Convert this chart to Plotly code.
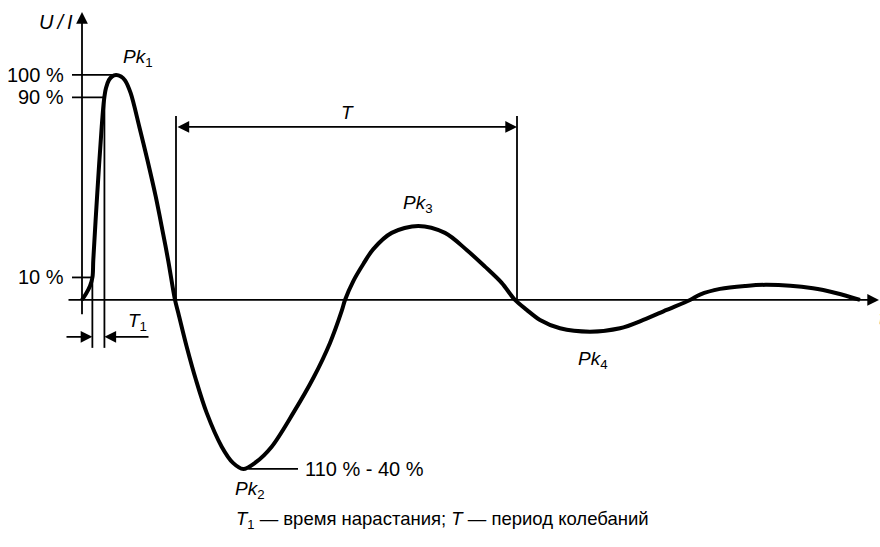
import numpy as np
import plotly.graph_objects as go

# ---- waveform data (time in arbitrary units, amplitude in % of Pk1) ----
t_vals = [0.00, 0.04, 0.08, 0.105, 0.113, 0.153, 0.197, 0.22, 0.24, 0.27, 0.30, 0.34,
          0.39, 0.43, 0.487, 0.573, 0.653, 0.737, 0.803, 0.863, 0.93,
          0.963, 1.047, 1.14, 1.247, 1.397, 1.51, 1.613, 1.73, 1.897, 2.113, 2.313,
          2.48, 2.597, 2.63,
          2.713, 2.813, 2.913, 3.097, 3.363, 3.63, 3.847, 4.03, 4.197, 4.33,
          4.447, 4.58, 4.78, 5.08, 5.38, 5.613, 5.847, 6.08,
          6.18, 6.38, 6.63, 6.847, 7.31, 7.547, 7.78]
u_vals = [0.0, 2.7, 6.2, 10.2, 17.8, 47.6, 76.9, 88.9, 94.2, 97.8, 99.3, 100.0,
          99.3, 97.6, 91.9, 77.0, 62.4, 46.0, 31.3, 17.3, 0.0,
          -5.8, -20.8, -35.6, -50.2, -65.2, -72.4, -75.1, -72.4, -65.2, -50.2, -34.7,
          -19.1, -4.9, 0.0,
          8.4, 16.0, 22.6, 29.8, 32.9, 29.8, 22.2, 14.8, 7.6, 0.0,
          -4.4, -8.9, -12.6, -14.1, -12.6, -8.9, -4.4, 0.0,
          2.4, 4.9, 6.2, 6.7, 5.2, 3.0, 0.0]

level_labels = ["100 %", "90 %", "10 %"]
level_values = [100, 90, 10]
peak_labels = ["<i>Pk</i><sub>1</sub>", "<i>Pk</i><sub>2</sub>",
               "<i>Pk</i><sub>3</sub>", "<i>Pk</i><sub>4</sub>"]
caption = "<i>T</i><sub>1</sub> — время нарастания; <i>T</i> — период колебаний"
pk2_note = "110 % - 40 %"

t = np.array(t_vals)
u = np.array(u_vals)

# derived positions
rise = slice(0, 12)
t10 = float(np.interp(10, u[rise], t[rise]))
t90 = float(np.interp(90, u[rise], t[rise]))
i_pk1 = int(np.argmax(u))
i_pk2 = int(np.argmin(u))
T_start, T_end = 0.94, 4.35

BLACK = "#000000"
FONT = "Liberation Sans, Arial, sans-serif"

fig = go.Figure()
fig.add_trace(go.Scatter(x=t, y=u, mode="lines",
                         line=dict(color=BLACK, width=4, shape="spline", smoothing=0.9),
                         hoverinfo="skip", showlegend=False))

shapes = []
def seg(x0, y0, x1, y1, w=1.8):
    shapes.append(dict(type="line", xref="x", yref="y", x0=x0, y0=y0, x1=x1, y1=y1,
                       line=dict(color=BLACK, width=w)))

# level ticks
seg(-0.10, 100, t[i_pk1], 100)
seg(-0.10, 90, t90, 90)
seg(-0.10, 10, t10, 10)
# T1 verticals
seg(t10, 10, t10, -21.3)
seg(t90, 90, t90, -21.3)
# T verticals
seg(T_start, 81.8, T_start, 0)
seg(T_end, 81.8, T_end, 0)
# Pk2 leader
seg(t[i_pk2] + 0.05, u[i_pk2], 2.16, u[i_pk2])

ann = []
def arrow(x0, y0, x1, y1, side="end"):
    ann.append(dict(x=x1, y=y1, ax=x0, ay=y0, xref="x", yref="y", axref="x", ayref="y",
                    text="", showarrow=True, arrowhead=2, arrowsize=1.3, arrowwidth=1.8,
                    arrowcolor=BLACK, arrowside=side, startarrowhead=2, startarrowsize=1.3))

def label(x, y, text, size=20, xanchor="center", yanchor="middle"):
    ann.append(dict(x=x, y=y, xref="x", yref="y", text=text, showarrow=False,
                    xanchor=xanchor, yanchor=yanchor,
                    font=dict(family=FONT, size=size, color=BLACK)))

# axes
arrow(0, -7, 0, 128.0)
arrow(-0.15, 0, 7.97, 0)
# T1 arrows
arrow(-0.17, -16.4, t10, -16.4)
arrow(0.68, -16.4, t90, -16.4)
# T double arrow
arrow(T_start, 76.9, T_end, 76.9, side="end+start")

# labels
label(-0.26, 123.6, "<i>U\u2009/\u2009I</i>", size=20)
label(7.95, -8.0, "<i>t</i>", xanchor="left")
for txt, v in zip(level_labels, level_values):
    label(-0.16, v, txt, xanchor="right")
label(0.56, 107.6, peak_labels[0], size=19)
label(1.68, -84.4, peak_labels[1], size=19)
label(3.36, 42.7, peak_labels[2], size=19)
label(5.11, -26.7, peak_labels[3], size=19)
label(0.55, -9.8, "<i>T</i><sub>1</sub>", size=19)
label(2.65, 83.1, "<i>T</i>", size=19)
label(2.21, u[i_pk2], pk2_note, xanchor="left")
label(3.6, -97.8, caption, size=18.5)

fig.update_layout(
    width=880, height=547,
    margin=dict(l=0, r=0, t=0, b=0),
    paper_bgcolor="white", plot_bgcolor="white",
    xaxis=dict(range=[-0.82, 7.98], visible=False, fixedrange=True),
    yaxis=dict(range=[-109.8, 133.3], visible=False, fixedrange=True),
    shapes=shapes, annotations=ann, showlegend=False,
)
fig.write_html("out.html", config={"displayModeBar": False},
               post_script="document.body.style.margin='0';document.body.style.padding='0';")
